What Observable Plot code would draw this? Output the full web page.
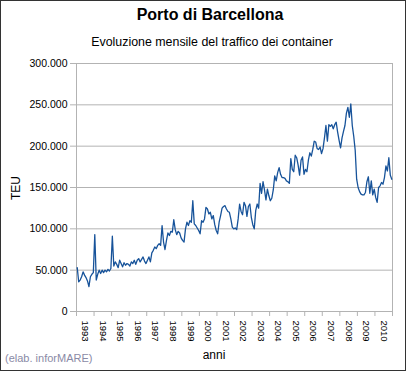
<!DOCTYPE html>
<html><head><meta charset="utf-8">
<script src="https://cdn.jsdelivr.net/npm/d3@7"></script>
<script src="https://cdn.jsdelivr.net/npm/@observablehq/plot@0.6"></script>
<style>
body{margin:0;background:#fff;font-family:"Liberation Sans",Arial,sans-serif;}
#wrap{position:relative;width:406px;height:371px;overflow:hidden;background:#fff;}
#wrap svg{position:absolute;left:0;top:0;}
.t{position:absolute;white-space:nowrap;line-height:1;color:#000;}
#border{position:absolute;left:0;top:0;width:406px;height:371px;box-sizing:border-box;border:1px solid #333;pointer-events:none;}
</style></head><body>
<div id="wrap">
  <div id="chart"></div>
  <div class="t" style="left:60px;width:300px;top:7px;text-align:center;font-size:16px;font-weight:bold">Porto di Barcellona</div>
  <div class="t" style="left:62px;width:300px;top:36px;text-align:center;font-size:12.4px">Evoluzione mensile del traffico dei container</div>
  <div class="t" style="left:164px;width:100px;top:349px;text-align:center;font-size:12px">anni</div>
  <div class="t" style="left:5px;top:353px;font-size:11px;color:#8a8aa6">(elab. inforMARE)</div>
  <div class="t" style="left:-4px;top:182px;width:40px;text-align:center;font-size:12px;transform:rotate(-90deg)">TEU</div>
  <div id="border"></div>
</div>
<script>
const years = ["1993","1994","1995","1996","1997","1998","1999","2000","2001","2002","2003","2004","2005","2006","2007","2008","2009","2010"];
const yTicks = [0, 50000, 100000, 150000, 200000, 250000, 300000];
// monthly TEU, January 1993 - December 2010
const teu = [
  53000,36000,38000,42000,48000,44000,41000,37000,30000,42000,45000,47000,
  93000,38000,45000,50000,46000,50000,47000,50000,48000,51000,49000,52000,
  91000,55000,60000,57000,53000,62000,58000,54000,59000,56000,58000,57000,
  55000,60000,58000,62000,57000,62000,64000,60000,63000,66000,61000,58000,
  62000,66000,60000,71000,74000,78000,76000,80000,82000,80000,104000,84000,
  75000,86000,95000,92000,97000,96000,111000,99000,93000,97000,95000,89000,
  86000,84000,100000,108000,104000,110000,108000,134000,106000,104000,101000,98000,
  94000,110000,108000,112000,126000,124000,118000,120000,112000,116000,105000,98000,
  94000,108000,116000,125000,127000,128000,124000,121000,120000,112000,102000,100000,
  101000,99000,112000,130000,121000,117000,132000,128000,115000,127000,130000,114000,
  105000,100000,122000,130000,125000,155000,143000,157000,147000,135000,148000,140000,
  134000,137000,147000,164000,158000,168000,174000,166000,162000,162000,161000,158000,
  157000,155000,185000,172000,169000,189000,186000,177000,165000,183000,187000,166000,
  172000,169000,183000,192000,188000,196000,206000,205000,197000,196000,199000,191000,
  197000,210000,225000,206000,226000,224000,226000,221000,226000,229000,217000,207000,
  198000,210000,218000,225000,240000,247000,235000,251000,225000,212000,195000,160000,
  150000,145000,142000,141000,141000,144000,157000,163000,143000,158000,141000,148000,
  138000,132000,150000,152000,156000,154000,162000,176000,170000,186000,165000,160000
];
const nMonths = years.length * 12;
const fmt = d => d3.format(",")(d).replace(/,/g, ".");

const chart = Plot.plot({
  width: 406, height: 371,
  marginLeft: 76, marginRight: 14, marginTop: 63, marginBottom: 60,
  style: {fontFamily: "'Liberation Sans', Arial, sans-serif", background: "transparent", color: "#000"},
  x: {domain: [0, nMonths], axis: null},
  y: {domain: [0, 300000], axis: null},
  marks: [
    Plot.ruleY(yTicks, {stroke: "#b3b3b3", strokeWidth: 1}),
    Plot.ruleX([0, nMonths], {stroke: "#b3b3b3", strokeWidth: 1}),
    Plot.axisY({ticks: yTicks, tickSize: 6, tickPadding: 3, tickFormat: fmt, fontSize: 10.5, stroke: "#b3b3b3", label: null}),
    Plot.axisX({ticks: d3.range(0, nMonths + 1, 12), tickSize: 5, tickFormat: () => "", stroke: "#b3b3b3", label: null}),
    Plot.text(years, {x: (d, i) => i * 12 + 6, frameAnchor: "bottom", rotate: 90, textAnchor: "start",
      lineAnchor: "middle", dy: 9, fontSize: 9.5, fill: "#000"}),
    Plot.line(teu, {x: (d, i) => i + 0.5, y: d => d, stroke: "#17539a", strokeWidth: 1.3})
  ]
});
document.getElementById("chart").appendChild(chart);
</script>
</body></html>
